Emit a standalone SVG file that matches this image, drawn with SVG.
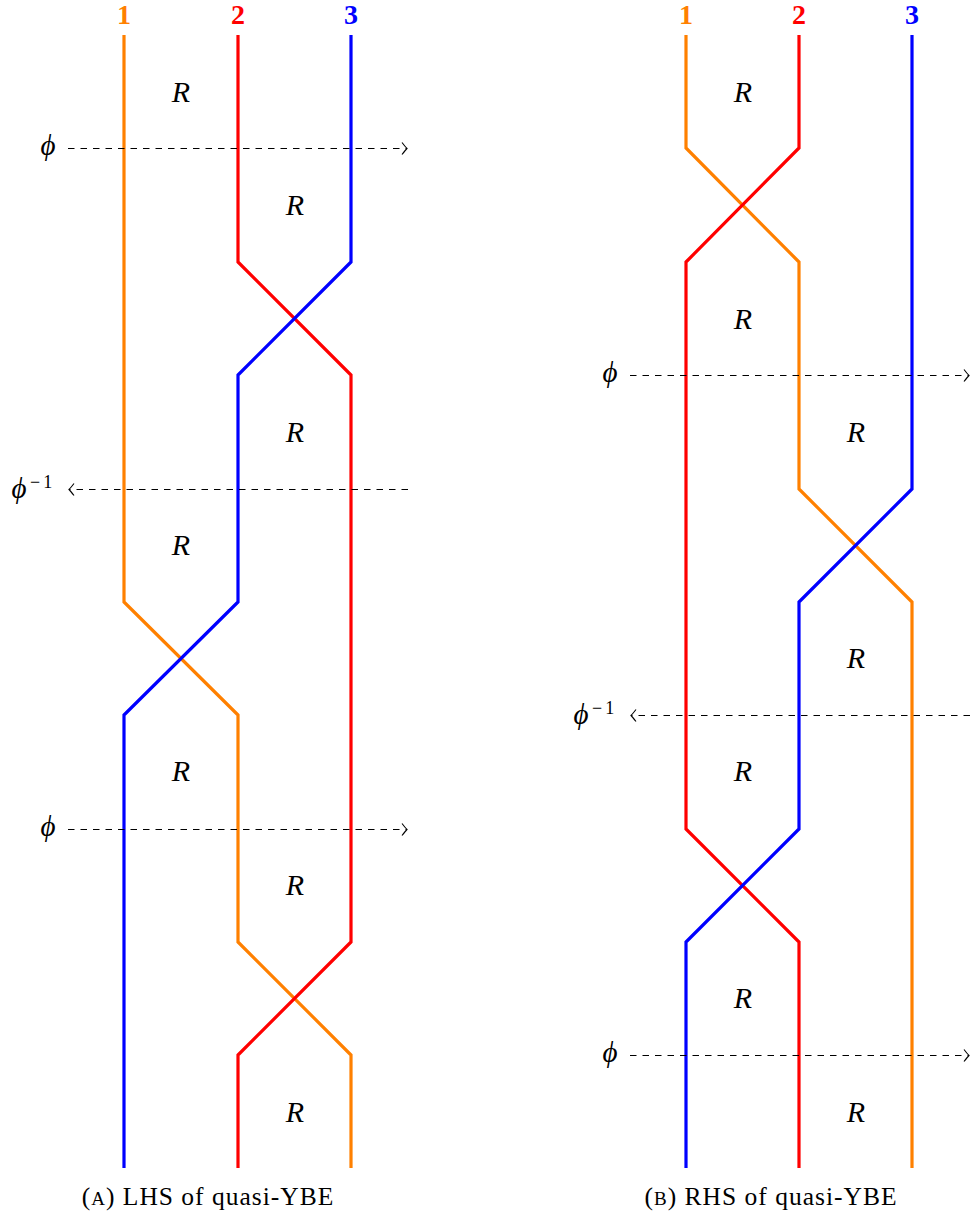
<svg xmlns="http://www.w3.org/2000/svg" width="973" height="1218" viewBox="0 0 973 1218">
<defs>
<marker id="tip" viewBox="-8 -7 10 14" markerWidth="10" markerHeight="14" refX="0" refY="0" orient="auto" markerUnits="userSpaceOnUse">
<path d="M -5 -6 Q -1.5 -1.5 0 0 Q -1.5 1.5 -5 6" fill="none" stroke="#000" stroke-width="1.1"/>
</marker>
</defs>
<style>
.s{fill:none;stroke-width:3.2;stroke-linejoin:miter}
.o{stroke:#ff8000}.r{stroke:#ff0000}.b{stroke:#0000ff}
.d{fill:none;stroke:#000;stroke-width:1.1;stroke-dasharray:6.5 6;marker-end:url(#tip)}
text{font-family:'Liberation Serif','Times New Roman',serif;fill:#000}
.R{font-style:italic;font-size:30px;text-anchor:middle}
.p{font-style:italic;font-size:29px;text-anchor:middle}
.sup{font-size:18px;letter-spacing:3px}
.n{font-weight:bold;font-size:28px;text-anchor:middle}
.cap{font-size:25.5px;letter-spacing:1px;text-anchor:middle}
.sc{font-size:19px}
</style>
<g id="connectors">
<path class="s o" d="M124 35 V602 L238 715 V942 L351 1055 V1168"/>
<path class="s r" d="M238 35 V262 L351 375 V942 L238 1055 V1168"/>
<path class="s b" d="M351 35 V262 L238 375 V602 L124 715 V1168"/>
<path class="s o" d="M686 35 V148 L799 262 V489 L912 602 V1168"/>
<path class="s r" d="M799 35 V148 L686 262 V829 L799 942 V1168"/>
<path class="s b" d="M912 35 V489 L799 602 V829 L686 942 V1168"/>
<path class="d" d="M68 148.5 H407"/>
<path class="d" d="M408 489.5 H69"/>
<path class="d" d="M68 829.5 H407"/>
<path class="d" d="M630 375.5 H969"/>
<path class="d" d="M970 715.5 H631"/>
<path class="d" d="M630 1055.5 H969"/>
</g>
<g id="labels-left">
<text class="n" x="124" y="24" style="fill:#ff8000">1</text>
<text class="n" x="238" y="24" style="fill:#ff0000">2</text>
<text class="n" x="351" y="24" style="fill:#0000ff">3</text>
</g>
<g id="labels-right">
<text class="n" x="686" y="24" style="fill:#ff8000">1</text>
<text class="n" x="799" y="24" style="fill:#ff0000">2</text>
<text class="n" x="912" y="24" style="fill:#0000ff">3</text>
</g>
<g id="R-left">
<text class="R" x="181" y="102">R</text>
<text class="R" x="295" y="215">R</text>
<text class="R" x="295" y="442">R</text>
<text class="R" x="181" y="555">R</text>
<text class="R" x="181" y="781">R</text>
<text class="R" x="295" y="895">R</text>
<text class="R" x="295" y="1122">R</text>
</g>
<g id="R-right">
<text class="R" x="743" y="102">R</text>
<text class="R" x="743" y="329">R</text>
<text class="R" x="856" y="442">R</text>
<text class="R" x="856" y="668">R</text>
<text class="R" x="743" y="781">R</text>
<text class="R" x="743" y="1008">R</text>
<text class="R" x="856" y="1122">R</text>
</g>
<g id="phi-labels">
<text class="p" x="48" y="155">ϕ</text>
<text class="p" x="19" y="498">ϕ</text><text class="sup" x="30" y="488">−1</text>
<text class="p" x="48" y="836">ϕ</text>
<text class="p" x="610" y="382">ϕ</text>
<text class="p" x="581" y="724">ϕ</text><text class="sup" x="592" y="714">−1</text>
<text class="p" x="610" y="1062">ϕ</text>
</g>
<g id="captions">
<text class="cap" x="208" y="1205">(<tspan class="sc">A</tspan>) LHS of quasi-YBE</text>
<text class="cap" x="771" y="1205">(<tspan class="sc">B</tspan>) RHS of quasi-YBE</text>
</g>
</svg>
